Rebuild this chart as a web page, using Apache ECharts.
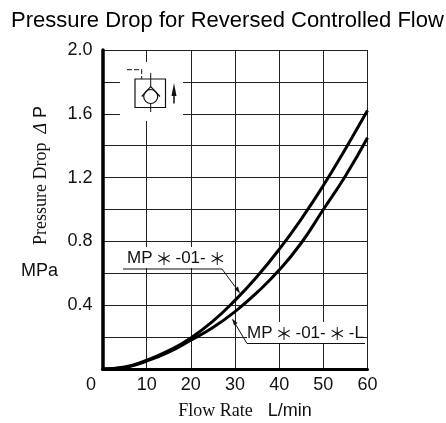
<!DOCTYPE html>
<html>
<head>
<meta charset="utf-8">
<style>
  html, body { margin: 0; padding: 0; background: #fff; }
  #graph { width: 446px; height: 423px; }
</style>
<script src="https://cdn.jsdelivr.net/npm/echarts@6/dist/echarts.min.js"></script>
</head>
<body>
<div id="graph"></div>
<script>
const flow = [0, 5, 10, 15, 20, 25, 30, 35, 40, 45, 50, 55, 60]

// MP*-01-*
const dropStandard = [0, 0.012, 0.055, 0.115, 0.195, 0.30, 0.43, 0.58, 0.75, 0.94, 1.15, 1.38, 1.62]
// MP*-01-*-L
const dropLow = [0, 0.01, 0.05, 0.105, 0.18, 0.26, 0.36, 0.48, 0.62, 0.79, 1.0, 1.21, 1.45]

const title = 'Pressure Drop for Reversed Controlled Flow'
const labelStandard = '{a|MP}{s|＊}{a|-01-}{s|＊}'
const labelLow = '{a|MP}{s|＊}{a|-01-}{s|＊}{a|-L}'

const ink = '#111'
const sans = '"Liberation Sans", Arial, sans-serif'
const serif = '"Liberation Serif", "Times New Roman", serif'

const labelRich = {
  a: { fontFamily: sans, fontSize: 17, fill: ink },
  s: { fontFamily: '"Noto Sans CJK JP", sans-serif', fontSize: 17, fill: ink, padding: [0, 3, 0, 3] },
}

const line = (x1, y1, x2, y2, lineWidth = 1) => ({
  type: 'line',
  z: 5,
  shape: { x1, y1, x2, y2 },
  style: { stroke: ink, lineWidth },
})
const mask = (x, y, width, height) => ({
  type: 'rect',
  z: 4,
  shape: { x, y, width, height },
  style: { fill: '#fff' },
})
const arrowHead = (points) => ({
  type: 'polygon',
  z: 5,
  shape: { points },
  style: { fill: ink },
})
const curveLabel = (x, y, text) => ({
  type: 'text',
  z: 5,
  x,
  y,
  style: { text, rich: labelRich },
})

const toPairs = (values) => flow.map((x, i) => [x, values[i]])

const curve = (name, values) => ({
  name,
  type: 'line',
  data: toPairs(values),
  smooth: true,
  showSymbol: false,
  clip: false,
  lineStyle: { color: '#000', width: 3 },
})

echarts.init(document.getElementById('graph')).setOption({
  animation: false,
  title: {
    text: title,
    left: 6,
    top: 5,
    textStyle: { fontFamily: sans, fontWeight: 'normal', fontSize: 22, color: '#000' },
  },
  grid: { left: 102.5, right: 78.5, top: 50, bottom: 54, outerBoundsMode: 'none' },
  xAxis: {
    type: 'value',
    min: 0,
    max: 60,
    interval: 10,
    name: '{a|Flow Rate}{b|   L/min}',
    nameLocation: 'middle',
    nameGap: 33,
    nameTextStyle: {
      rich: {
        a: { fontFamily: serif, fontSize: 18, color: '#111', padding: [0, 0, 0, 20] },
        b: { fontFamily: sans, fontSize: 18, color: '#111' },
      },
    },
    axisLine: { onZero: false, lineStyle: { color: '#000', width: 3 } },
    axisTick: { show: false },
    axisLabel: {
      margin: 7,
      fontFamily: sans,
      fontSize: 18,
      color: '#111',
      formatter: (v) => (v === 0 ? '{zero|0}' : String(v)),
      rich: { zero: { fontFamily: sans, fontSize: 18, color: '#111', padding: [0, 23, 0, 0] } },
    },
    splitLine: { show: true, lineStyle: { color: '#222', width: 1 } },
  },
  yAxis: {
    type: 'value',
    min: 0,
    max: 2,
    interval: 0.2,
    axisLine: { show: true, lineStyle: { color: '#000', width: 3.5 } },
    axisTick: { show: false },
    axisLabel: {
      margin: 10,
      fontFamily: sans,
      fontSize: 18,
      color: '#111',
      formatter: (v) => (v > 0 && Math.round(v * 10) % 4 === 0 ? v.toFixed(1) : ''),
    },
    splitLine: { show: true, lineStyle: { color: '#222', width: 1 } },
  },
  series: [curve('MP*-01-*', dropStandard), curve('MP*-01-*-L', dropLow)],
  graphic: [
    // white patches behind the symbol and the two curve labels
    mask(120, 62, 63, 59),
    mask(125, 247, 98, 21),
    mask(247, 322, 116, 21),

    // valve symbol
    {
      type: 'rect',
      z: 5,
      shape: { x: 135, y: 79, width: 30.5, height: 28.5 },
      style: { fill: 'none', stroke: ink, lineWidth: 1.2 },
    },
    line(150.7, 73, 150.7, 87),
    line(150.7, 104, 150.7, 112),
    { type: 'circle', z: 5, shape: { cx: 150.7, cy: 96.5, r: 7 }, style: { fill: '#fff', stroke: ink, lineWidth: 1.2 } },
    {
      type: 'polyline',
      z: 5,
      shape: { points: [[141.7, 96.5], [150.7, 86.7], [160, 96.5]] },
      style: { fill: 'none', stroke: ink, lineWidth: 1.2 },
    },
    {
      type: 'polyline',
      z: 5,
      shape: { points: [[127, 69.7], [141.7, 69.7], [141.7, 79]] },
      style: { fill: 'none', stroke: ink, lineWidth: 1, lineDash: [5, 2] },
    },
    line(174, 94, 174, 103.5, 1.5),
    arrowHead([[174, 83], [171.5, 96], [176.5, 96]]),

    // curve labels with their leaders
    curveLabel(127, 250, labelStandard),
    line(123, 269, 222, 269),
    line(222, 269, 239, 292),
    arrowHead([[240, 293.5], [234.5, 289], [238, 286.5]]),

    curveLabel(247, 325, labelLow),
    line(247, 343.5, 365, 343.5),
    line(247, 343.5, 233, 320),
    arrowHead([[232, 318.5], [237.5, 323], [234, 325.5]]),

    // y axis captions
    {
      type: 'text',
      z: 5,
      x: 32,
      y: 245,
      rotation: Math.PI / 2,
      style: {
        text: '{a|Pressure Drop}{b|  Δ}{c| P}',
        rich: {
          a: { fontFamily: serif, fontSize: 18, fill: ink },
          b: { fontFamily: serif, fontStyle: 'italic', fontSize: 18, fill: ink },
          c: { fontFamily: sans, fontSize: 18, fill: ink },
        },
      },
    },
    { type: 'text', z: 5, style: { x: 21, y: 262, text: 'MPa', font: '18px ' + sans, fill: ink } },
  ],
})
</script>
</body>
</html>
